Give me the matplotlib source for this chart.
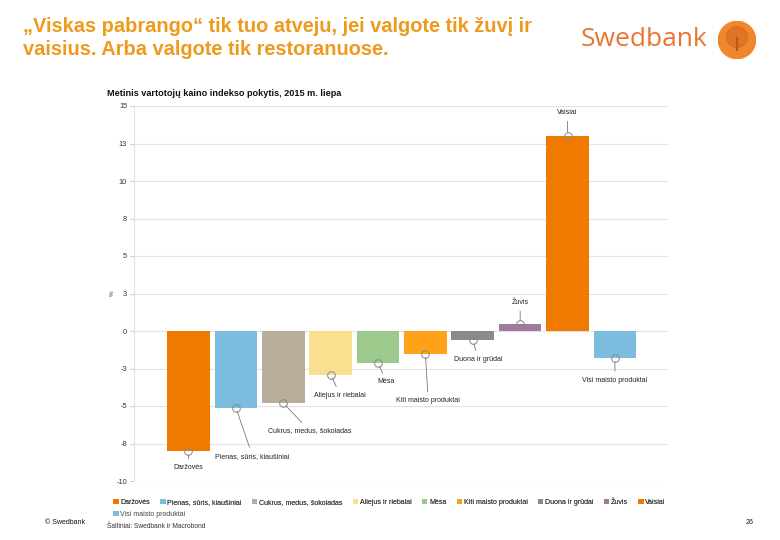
import matplotlib
matplotlib.use("Agg")
import matplotlib.pyplot as plt
import numpy as np
from matplotlib.patches import Patch, Circle

categories = ["Daržovės", "Pienas, sūris, kiaušiniai", "Cukrus, medus, šokoladas",
              "Aliejus ir riebalai", "Mėsa", "Kiti maisto produktai",
              "Duona ir grūdai", "Žuvis", "Vaisiai", "Visi maisto produktai"]
values = [-8.0, -5.1, -4.8, -2.9, -2.1, -1.5, -0.6, 0.45, 13.0, -1.8]
colors = ["#F07A00", "#7CBCDF", "#B9AE9B", "#FADF90", "#9DC98C", "#FFA21A",
          "#8E8989", "#A07A9F", "#F07A00", "#7CBCDF"]
ytick_vals = [-10, -7.5, -5, -2.5, 0, 2.5, 5, 7.5, 10, 12.5, 15]
ytick_labels = ["-10", "-8", "-5", "-3", "0", "3", "5", "8", "10", "13", "15"]
# label offsets (points) relative to bar end
label_offsets = [(0, -12), (12, -35), (19, -20), (7, -15), (6, -14), (2, -34),
                 (4, -14), (0, 16), (0, 17), (0, -16)]

FONT = ["Liberation Sans", "DejaVu Sans"]
plt.rcParams["font.family"] = FONT

W, H = 780, 540
fig = plt.figure(figsize=(W / 100, H / 100), dpi=100)

def fx(x):
    return x / W

def fy(y):
    return 1 - y / H

ax = fig.add_axes([fx(134), fy(481), fx(668) - fx(134), fy(106) - fy(481)])
x = np.arange(len(categories))
ax.bar(x, values, width=0.9, color=colors, zorder=2)
ax.set_xlim(-1.15, len(categories) - 1 + 1.12)
ax.set_ylim(-10, 15)
ax.set_yticks(ytick_vals)
ax.set_yticklabels(ytick_labels, fontsize=5.3, color="#333333")
ax.set_xticks([])
ax.grid(axis="y", color="#E3E3E3", linewidth=0.8, zorder=0)
for s in ["top", "right", "bottom"]:
    ax.spines[s].set_visible(False)
ax.spines["left"].set_color("#E3E3E3")
ax.spines["left"].set_linewidth(0.8)
ax.tick_params(axis="y", length=3, width=0.6, color="#BBBBBB", pad=2)

for i, (v, lab, off) in enumerate(zip(values, categories, label_offsets)):
    ax.plot(i, v, marker="o", ms=5.5, mfc="none", mec="#888888", mew=0.7, zorder=4)
    ax.annotate(lab, xy=(i, v), xytext=off, textcoords="offset points",
                ha="center", va="center", fontsize=5, color="#222222",
                arrowprops=dict(arrowstyle="-", color="#777777", lw=0.6,
                                shrinkA=2, shrinkB=2.8), zorder=5)

# % label
fig.text(fx(112), fy(293), "%", rotation=90, fontsize=4.5, color="#444444",
         ha="center", va="center")

# chart title
fig.text(fx(107), fy(93), "Metinis vartotojų kaino indekso pokytis, 2015 m. liepa",
         fontsize=6.6, fontweight="bold", color="#111111", ha="left", va="center")

# slide title
fig.text(fx(23), fy(38), "„Viskas pabrango“ tik tuo atveju, jei valgote tik žuvį ir\nvaisius. Arba valgote tik restoranuose.",
         fontsize=14.4, fontweight="bold", color="#EE9A1C",
         ha="left", va="center", linespacing=1.3)

# logo
fig.text(fx(581), fy(40), "Swedbank", fontsize=19, color="#E9742F",
         ha="left", va="center", family=["Open Sans", "DejaVu Sans"])
logo_ax = fig.add_axes([fx(718), fy(59), fx(38), fy(0) - fy(38)])
logo_ax.set_xlim(-1, 1); logo_ax.set_ylim(-1, 1); logo_ax.set_aspect("equal")
logo_ax.axis("off")
logo_ax.add_patch(Circle((0, 0), 0.98, color="#F0862E"))
logo_ax.add_patch(Circle((0, 0.15), 0.55, color="#D2691E", alpha=0.6))
logo_ax.plot([0, 0], [-0.5, 0.1], color="#B35A1A", lw=1.5)

# legends
handles1 = [Patch(facecolor=c, edgecolor="none", label=l) for c, l in zip(colors[:9], categories[:9])]
leg1 = fig.legend(handles=handles1, loc="upper left", bbox_to_anchor=(fx(113), fy(499)),
                  ncol=9, fontsize=5, frameon=False, handlelength=0.8, handleheight=0.8,
                  handletextpad=0.25, columnspacing=1.45, borderpad=0, borderaxespad=0,
                  labelcolor="#444444")
handles2 = [Patch(facecolor=colors[9], edgecolor="none", label=categories[9])]
leg2 = fig.legend(handles=handles2, loc="upper left", bbox_to_anchor=(fx(113), fy(511)),
                  ncol=1, fontsize=5, frameon=False, handlelength=0.8, handleheight=0.8,
                  handletextpad=0.25, borderpad=0, borderaxespad=0, labelcolor="#444444")
fig.add_artist(leg1)

# footer
fig.text(fx(45), fy(522), "© Swedbank", fontsize=5, color="#111111", ha="left", va="center")
fig.text(fx(107), fy(527), "Šaltiniai: Swedbank ir Macrobond", fontsize=4.8, color="#333333",
         ha="left", va="center")
fig.text(fx(750), fy(522), "26", fontsize=5, color="#111111", ha="center", va="center")

fig.savefig("out.png", dpi=100)
